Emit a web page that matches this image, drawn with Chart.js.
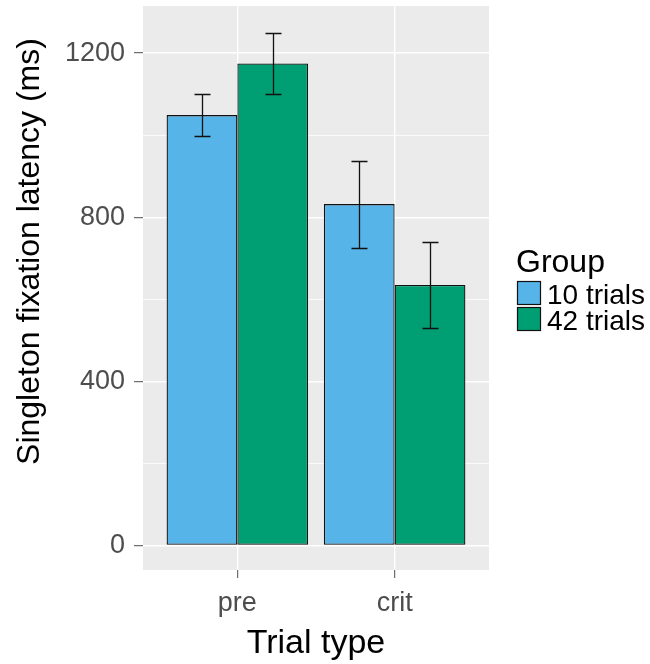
<!DOCTYPE html>
<html>
<head>
<meta charset="utf-8">
<script src="https://cdn.jsdelivr.net/npm/chart.js@4/dist/chart.umd.min.js"></script>
<style>
  html, body { margin: 0; padding: 0; background: #fff; }
  #wrap { width: 650px; height: 664px; }
</style>
</head>
<body>
<div id="wrap"><canvas id="chart"></canvas></div>
<script>
// categories (placed at x = 1, 2 like a discrete ggplot axis)
const trialTypes = ['pre', 'crit'];
const groups = ['10 trials', '42 trials'];
const groupColors = ['#56B4E9', '#009E73'];

// mean latency (ms) per group, in trialTypes order
const means10 = [1049, 832];
const means42 = [1175, 635];

// error bar half-widths (ms)
const err10 = [51, 106];
const err42 = [75, 105];

const yTicks = [0, 200, 400, 600, 800, 1000, 1200];

const fontFamily = '"Liberation Sans", Arial, sans-serif';

// grey panel behind the plot
const panelBg = {
  id: 'panelBg',
  beforeDraw(chart) {
    const { ctx, chartArea: a } = chart;
    ctx.save();
    ctx.fillStyle = '#EBEBEB';
    ctx.fillRect(a.left, a.top, a.right - a.left, a.bottom - a.top);
    ctx.restore();
  }
};

// error bars drawn on top of each bar
const errorBars = {
  id: 'errorBars',
  afterDatasetsDraw(chart) {
    const { ctx } = chart;
    const y = chart.scales.y;
    const errs = [err10, err42];
    ctx.save();
    ctx.strokeStyle = '#111';
    ctx.lineWidth = 1.3;
    chart.data.datasets.forEach((ds, di) => {
      const meta = chart.getDatasetMeta(di);
      meta.data.forEach((bar, i) => {
        const v = ds.data[i].y;
        const e = errs[di][i];
        const top = Math.round(y.getPixelForValue(v + e)) + 0.5;
        const bot = Math.round(y.getPixelForValue(v - e)) + 0.5;
        const cx = Math.round(bar.x) + 0.5;
        const half = bar.width * 0.113;
        ctx.beginPath();
        ctx.moveTo(cx, top);
        ctx.lineTo(cx, bot);
        ctx.moveTo(cx - half, top);
        ctx.lineTo(cx + half, top);
        ctx.moveTo(cx - half, bot);
        ctx.lineTo(cx + half, bot);
        ctx.stroke();
      });
    });
    ctx.restore();
  }
};

// y title and legend, placed like the ggplot layout
const sideText = {
  id: 'sideText',
  afterDraw(chart) {
    const { ctx, chartArea: a } = chart;
    ctx.save();
    ctx.fillStyle = '#000';
    ctx.translate(39, 251.5);
    ctx.rotate(-Math.PI / 2);
    ctx.textAlign = 'center';
    ctx.textBaseline = 'alphabetic';
    ctx.font = '32px ' + fontFamily;
    ctx.fillText('Singleton fixation latency (ms)', 0, 0);
    ctx.restore();

    ctx.save();
    const lx = a.right + 28;
    ctx.textAlign = 'left';
    ctx.textBaseline = 'alphabetic';
    ctx.fillStyle = '#000';
    ctx.font = '32px ' + fontFamily;
    ctx.fillText('Group', lx - 1, 272);
    ctx.font = '28px ' + fontFamily;
    groups.forEach((g, i) => {
      const by = 281 + i * 26;
      ctx.fillStyle = groupColors[i];
      ctx.fillRect(lx, by, 24, 24);
      ctx.strokeStyle = '#111';
      ctx.lineWidth = 1.2;
      ctx.strokeRect(lx + 0.5, by + 0.5, 23, 23);
      ctx.fillStyle = '#000';
      ctx.fillText(g, lx + 30, by + 23);
    });
    ctx.restore();
  }
};

const ctx = document.getElementById('chart').getContext('2d');
new Chart(ctx, {
  type: 'bar',
  data: {
    datasets: groups.map((g, gi) => ({
      label: g,
      data: [means10, means42][gi].map((v, i) => ({ x: i + 1, y: v })),
      backgroundColor: groupColors[gi],
      borderColor: '#111',
      borderWidth: 1.3,
      borderSkipped: false
    }))
  },
  options: {
    responsive: true,
    maintainAspectRatio: false,
    animation: false,
    categoryPercentage: 0.9,
    barPercentage: 1.0,
    layout: { padding: { left: 0, right: 161, top: 6, bottom: 0 } },
    scales: {
      x: {
        type: 'linear',
        min: 0.4,
        max: 2.6,
        offset: false,
        afterBuildTicks: (axis) => { axis.ticks = trialTypes.map((t, i) => ({ value: i + 1 })); },
        afterFit: (scale) => {
          scale.height = 94;
          scale.paddingLeft = 0;
          scale.paddingRight = 0;
        },
        ticks: {
          callback: (v) => trialTypes[v - 1],
          color: '#4D4D4D',
          font: { family: fontFamily, size: 27 },
          padding: 9,
          maxRotation: 0
        },
        grid: { offset: false, color: '#FFFFFF', lineWidth: 1.4, tickColor: '#4D4D4D', tickWidth: 1, tickLength: 8 },
        border: { display: false },
        title: {
          display: true,
          text: 'Trial type',
          color: '#000',
          font: { family: fontFamily, size: 34 },
          padding: { top: 0, bottom: 0 }
        }
      },
      y: {
        min: -60,
        max: 1315,
        afterBuildTicks: (axis) => { axis.ticks = yTicks.map(v => ({ value: v })); },
        afterFit: (scale) => {
          scale.width = 143;
          scale.paddingTop = 0;
          scale.paddingBottom = 0;
        },
        ticks: {
          callback: (v) => (v % 400 === 0 ? String(v) : ''),
          color: '#4D4D4D',
          font: { family: fontFamily, size: 27 },
          padding: 9
        },
        grid: {
          color: '#FFFFFF',
          lineWidth: (c) => (c.tick && c.tick.value % 400 === 0 ? 1.4 : 0.8),
          tickColor: (c) => (c.tick && c.tick.value % 400 === 0 ? '#4D4D4D' : 'rgba(0,0,0,0)'),
          tickWidth: 1,
          tickLength: 9
        },
        border: { display: false }
      }
    },
    plugins: {
      legend: { display: false },
      tooltip: { enabled: false }
    }
  },
  plugins: [panelBg, errorBars, sideText]
});
</script>
</body>
</html>
